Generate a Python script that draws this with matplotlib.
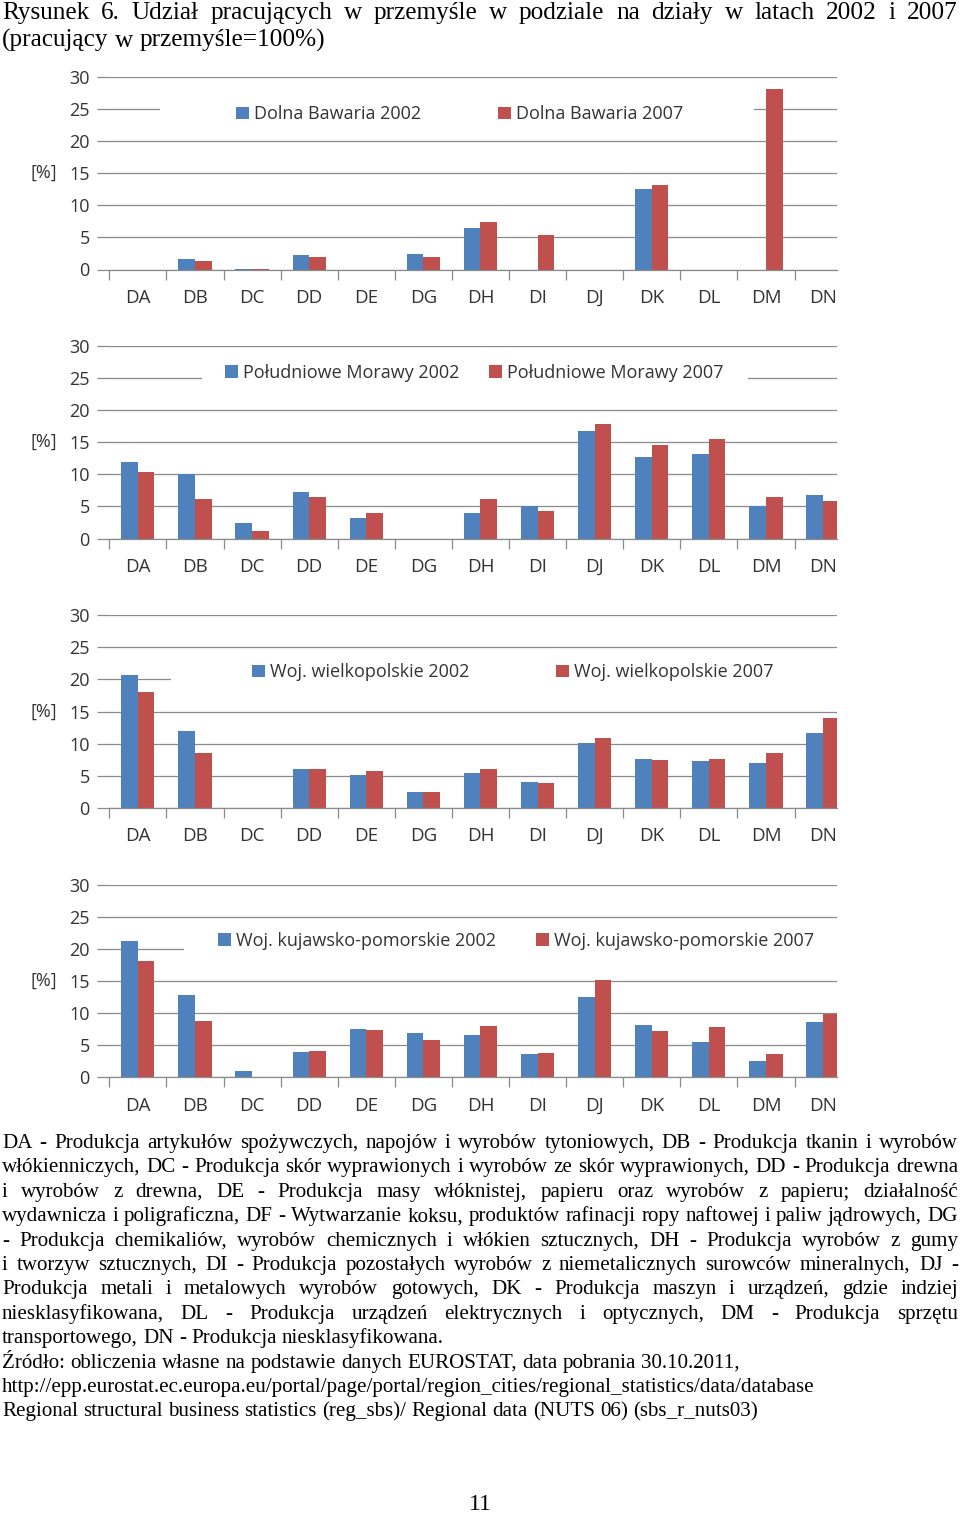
"""
Rysunek 6 - udział pracujących w przemyśle wg działów, 2002 vs 2007 (4 regiony).
"""
import numpy as np
import matplotlib as mpl, matplotlib.pyplot as plt
from matplotlib.patches import Rectangle, Patch

mpl.rcParams.update({"font.family": ["Open Sans", "DejaVu Sans"], "font.size": 12,
    "axes.spines.right": False, "axes.spines.top": False, "axes.spines.left": False})

# ====== Data ======
cats = ["DA","DB","DC","DD","DE","DG","DH","DI","DJ","DK","DL","DM","DN"]

bawaria_2002 = [0, 1.7, 0.1, 2.2, 0, 2.35, 6.45, 0, 0, 12.5, 0, 0, 0]
bawaria_2007 = [0, 1.25, 0.15, 1.9, 0, 2.0, 7.4, 5.35, 0, 13.1, 0, 28.1, 0]
morawy_2002 = [11.9, 10.1, 2.45, 7.3, 3.2, 0, 3.9, 5.1, 16.7, 12.7, 13.1, 5.1, 6.85]
morawy_2007 = [10.3, 6.1, 1.2, 6.4, 3.9, 0, 6.1, 4.3, 17.85, 14.6, 15.5, 6.4, 5.9]
wlkp_2002 = [20.7, 12.0, 0, 6.0, 5.05, 2.45, 5.4, 4.0, 10.1, 7.6, 7.3, 7.0, 11.6]
wlkp_2007 = [18.05, 8.55, 0, 6.0, 5.7, 2.45, 6.0, 3.85, 10.95, 7.45, 7.6, 8.55, 13.95]
kp_2002 = [21.2, 12.75, 0.9, 3.85, 7.5, 6.85, 6.55, 3.55, 12.55, 8.1, 5.45, 2.45, 8.6]
kp_2007 = [18.1, 8.8, 0, 4.15, 7.35, 5.75, 8.0, 3.75, 15.1, 7.2, 7.8, 3.6, 9.8]

names = [("Dolna Bawaria 2002", "Dolna Bawaria 2007"),
         ("Południowe Morawy 2002", "Południowe Morawy 2007"),
         ("Woj. wielkopolskie 2002", "Woj. wielkopolskie 2007"),
         ("Woj. kujawsko-pomorskie 2002", "Woj. kujawsko-pomorskie 2007")]
series = [(bawaria_2002, bawaria_2007), (morawy_2002, morawy_2007),
          (wlkp_2002, wlkp_2007), (kp_2002, kp_2007)]

title_lines = ["Rysunek 6. Udział pracujących w przemyśle w podziale na działy w latach 2002 i 2007",
               "(pracujący w przemyśle=100%)"]
note_lines = [
    ("DA - Produkcja artykułów spożywczych, napojów i wyrobów tytoniowych, DB - Produkcja tkanin i wyrobów", True),
    ("włókienniczych, DC - Produkcja skór wyprawionych i wyrobów ze skór wyprawionych, DD - Produkcja drewna", True),
    ("i wyrobów z drewna, DE - Produkcja masy włóknistej, papieru oraz wyrobów z papieru; działalność", True),
    ("wydawnicza i poligraficzna, DF - Wytwarzanie koksu, produktów rafinacji ropy naftowej i paliw jądrowych, DG", True),
    ("- Produkcja chemikaliów, wyrobów chemicznych i włókien sztucznych, DH - Produkcja wyrobów z gumy", True),
    ("i tworzyw sztucznych, DI - Produkcja pozostałych wyrobów z niemetalicznych surowców mineralnych, DJ -", True),
    ("Produkcja metali i metalowych wyrobów gotowych, DK - Produkcja maszyn i urządzeń, gdzie indziej", True),
    ("niesklasyfikowana, DL - Produkcja urządzeń elektrycznych i optycznych, DM - Produkcja sprzętu", True),
    ("transportowego, DN - Produkcja niesklasyfikowana.", False),
    ("Źródło: obliczenia własne na podstawie danych EUROSTAT, data pobrania 30.10.2011,", False),
    ("http://epp.eurostat.ec.europa.eu/portal/page/portal/region_cities/regional_statistics/data/database", False),
    ("Regional structural business statistics (reg_sbs)/ Regional data (NUTS 06) (sbs_r_nuts03)", False),
]

# ====== Layout (pixels) ======
W, H = 960, 1515
BLUE, RED = "#4F81BD", "#C0504D"
GRID, TXT = "#8A8A8A", "#333333"
SERIF = ["Liberation Serif", "DejaVu Serif"]
ax_left, ax_right = 109.3, 837
slot = 57.1
ax_tops = [77, 346, 615.3, 884.7]
ax_h = 192.5
leg_x = [(236, 498), (225, 489), (252, 556), (218, 536)]
leg_y = [24.2, 25.8, 21.1, 21.3]
box = [(160, 754, 21.5, 27.5), (202, 748, 22.0, 28.5), (171, 837, 18.5, 24.0), (184, 837, 18.5, 24.0)]

fig = plt.figure(figsize=(W/100, H/100), dpi=100)
x = np.arange(len(cats))
bw = 0.29
xmax = -0.5 + (ax_right - ax_left) / slot
fx = lambda px: (px - ax_left) / (ax_right - ax_left)

for i, (s02, s07) in enumerate(series):
    ax = fig.add_axes([ax_left/W, 1 - (ax_tops[i] + ax_h)/H, (ax_right - ax_left)/W, ax_h/H])
    ax.set_axisbelow(True)
    ax.bar(x - bw/2, s02, width=bw, color=BLUE, zorder=2)
    ax.bar(x + bw/2, s07, width=bw, color=RED, zorder=2)
    ax.set_xlim(-0.5, xmax); ax.set_ylim(0, 30)
    ax.set_yticks(range(0, 31, 5))
    ax.grid(axis="y", color=GRID, linewidth=0.9)
    ax.tick_params(axis="y", length=9, width=0.9, color=GRID, pad=5, labelcolor=TXT, labelsize=13)
    ax.set_xticks(np.arange(-0.5, 12, 1)); ax.set_xticklabels([])
    ax.set_xticks(x, minor=True); ax.set_xticklabels(cats, minor=True)
    ax.tick_params(axis="x", which="major", length=7, width=0.9, color=GRID)
    ax.tick_params(axis="x", which="minor", length=0, pad=14, labelcolor=TXT, labelsize=13.5)
    ax.spines["bottom"].set_color(GRID); ax.spines["bottom"].set_linewidth(0.9)
    ax.set_ylabel("[%]", rotation=0, color=TXT, fontsize=13, va="center", ha="center")
    ax.yaxis.set_label_coords(fx(44), 0.5)
    # legend background (hides gridlines like in the original)
    bx0, bx1, by0, by1 = box[i]
    ax.add_patch(Rectangle((fx(bx0), by0/30), fx(bx1) - fx(bx0), (by1 - by0)/30,
                           transform=ax.transAxes, facecolor="white", edgecolor="none", zorder=1))
    for j, (lab, col) in enumerate(zip(names[i], [BLUE, RED])):
        leg = ax.legend(handles=[Patch(facecolor=col, label=lab)], loc="center left",
                        bbox_to_anchor=(fx(leg_x[i][j]), leg_y[i]/30), frameon=False,
                        borderpad=0, borderaxespad=0, handlelength=0.7, handleheight=0.7,
                        handletextpad=0.3, fontsize=13, labelcolor=TXT)
        if j == 0: ax.add_artist(leg)

# ====== Text (justified like in the document) ======
renderer = fig.canvas.get_renderer()
def put_line(txt, base_y, size, justify, x0=2, x1=958):
    words = txt.split(" ")
    while True:
        ts = [fig.text(0, 1 - base_y/H, w, fontsize=size, family=SERIF, va="baseline", color="black") for w in words]
        widths = [t.get_window_extent(renderer).width for t in ts]
        gap = (x1 - x0 - sum(widths)) / (len(words) - 1) if justify else size * 0.25 * 100/72
        if gap >= 2.5: break
        for t in ts: t.remove()
        size -= 0.25
    xx = x0
    for t, w in zip(ts, widths):
        t.set_x(xx / W); xx += w + gap

put_line(title_lines[0], 19, 18.2, True)
put_line(title_lines[1], 47, 18.2, False)
for k, (ln, just) in enumerate(note_lines):
    put_line(ln, 1148 + k * 24.4, 15.1, just)
fig.text(0.5, 1 - 1510/H, "11", fontsize=17, family=SERIF, ha="center", va="baseline")

fig.savefig("out.png", dpi=100)
